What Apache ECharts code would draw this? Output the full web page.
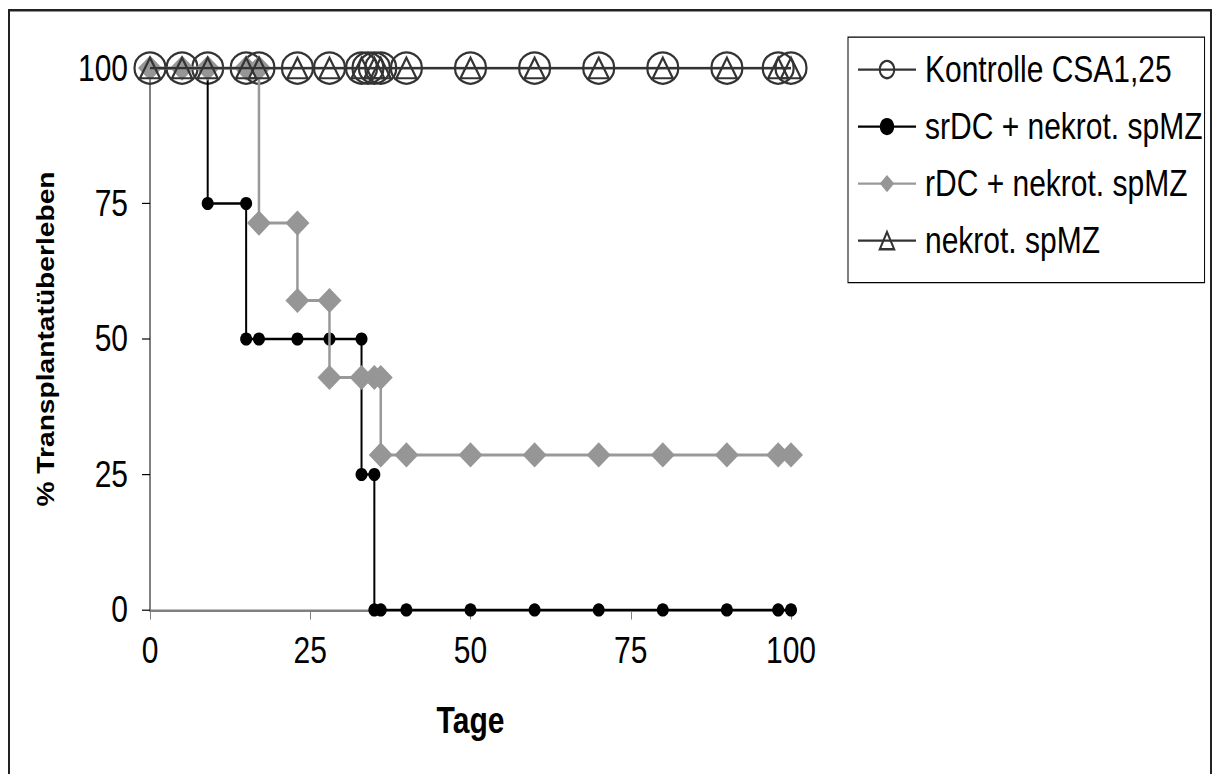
<!DOCTYPE html>
<html>
<head>
<meta charset="utf-8">
<script src="https://cdn.jsdelivr.net/npm/echarts@6/dist/echarts.min.js"></script>
<style>
  html, body { margin: 0; padding: 0; background: #fff; }
  #frame { width: 1214px; height: 774px; position: relative; overflow: hidden; background: #fff; }
  /* The figure is laid out at 1214x645 and stretched vertically to fill 774px,
     which gives the tall, condensed lettering of the printed figure. */
  #chart {
    position: absolute;
    left: 0;
    top: 0;
    width: 1214px;
    height: 645px;
    transform: scaleY(1.2);
    transform-origin: 0 0;
  }
</style>
</head>
<body>
<div id="frame"><div id="chart"></div></div>
<script>
// Survival of transplants (%) over days, four treatment groups
const seriesNames = [
  'Kontrolle CSA1,25',
  'srDC + nekrot. spMZ',
  'rDC + nekrot. spMZ',
  'nekrot. spMZ'
];

const xTicks = [0, 25, 50, 75, 100];
const yTicks = [0, 25, 50, 75, 100];

// Kontrolle CSA1,25
const kontrolleDays = [0, 5, 9, 15, 17, 23, 28, 33, 34, 35, 36, 40, 50, 60, 70, 80, 90, 98, 100];
const kontrolleSurv = [100, 100, 100, 100, 100, 100, 100, 100, 100, 100, 100, 100, 100, 100, 100, 100, 100, 100, 100];

// srDC + nekrot. spMZ
const srdcDays = [0, 5, 9, 9, 15, 15, 17, 23, 28, 33, 33, 35, 35, 36, 40, 50, 60, 70, 80, 90, 98, 100];
const srdcSurv = [100, 100, 100, 75, 75, 50, 50, 50, 50, 50, 25, 25, 0, 0, 0, 0, 0, 0, 0, 0, 0, 0];

// rDC + nekrot. spMZ
const rdcDays = [0, 5, 9, 15, 17, 17, 23, 23, 28, 28, 33, 35, 36, 36, 40, 50, 60, 70, 80, 90, 98, 100];
const rdcSurv = [100, 100, 100, 100, 100, 71.4, 71.4, 57.1, 57.1, 42.9, 42.9, 42.9, 42.9, 28.6, 28.6, 28.6, 28.6, 28.6, 28.6, 28.6, 28.6, 28.6];

// nekrot. spMZ
const nekrotDays = [0, 5, 9, 15, 17, 23, 28, 33, 35, 36, 40, 50, 60, 70, 80, 90, 98, 100];
const nekrotSurv = [100, 100, 100, 100, 100, 100, 100, 100, 100, 100, 100, 100, 100, 100, 100, 100, 100, 100];

const pairs = (xs, ys) => xs.map((x, i) => [x, ys[i]]);

const FONT = "'Liberation Sans', Arial, sans-serif";

const chart = echarts.init(document.getElementById('chart'), null, { renderer: 'svg' });

chart.setOption({
  animation: false,
  backgroundColor: '#ffffff',
  graphic: [{
    type: 'rect',
    shape: { x: 9, y: 8.5, width: 1202, height: 700 },
    style: { fill: 'none', stroke: '#222', lineWidth: 2 },
    silent: true
  }],
  grid: { left: 150, right: 423, top: 56.7, bottom: 136.7, containLabel: false },
  legend: {
    orient: 'vertical',
    left: 848,
    top: 31,
    padding: [12, 2, 20, 9],
    itemGap: 17.5,
    itemWidth: 58,
    itemHeight: 18,
    backgroundColor: '#fff',
    borderColor: '#000',
    borderWidth: 1,
    borderRadius: 0,
    data: seriesNames,
    textStyle: { fontFamily: FONT, fontSize: 30, color: '#000', padding: [0, 0, 0, 4] }
  },
  xAxis: {
    type: 'value',
    min: 0, max: 100, interval: 25,
    name: 'Tage',
    nameLocation: 'middle',
    nameGap: 77,
    nameTextStyle: { fontFamily: FONT, fontWeight: 'bold', fontSize: 30, color: '#000' },
    axisLine: { show: true, onZero: false, lineStyle: { color: '#808080', width: 2 } },
    axisTick: { show: true, inside: false, length: 8, lineStyle: { color: '#808080', width: 1 } },
    axisLabel: {
      fontFamily: FONT, fontSize: 30, color: '#000', margin: 19,
      customValues: xTicks
    },
    splitLine: { show: false }
  },
  yAxis: {
    type: 'value',
    min: 0, max: 100, interval: 25,
    name: '% Transplantatüberleben',
    nameLocation: 'middle',
    nameGap: 92,
    nameRotate: 90,
    nameTextStyle: { fontFamily: FONT, fontWeight: 'bold', fontSize: 23.5, color: '#000' },
    axisLine: { show: true, lineStyle: { color: '#808080', width: 2 } },
    axisTick: { show: true, inside: false, length: 8, lineStyle: { color: '#000', width: 1 } },
    axisLabel: {
      fontFamily: FONT, fontSize: 30, color: '#000', margin: 22,
      customValues: yTicks
    },
    splitLine: { show: false }
  },
  series: [
    {
      name: seriesNames[0],
      type: 'line',
      data: pairs(kontrolleDays, kontrolleSurv),
      symbol: 'circle',
      symbolSize: [31, 26],
      showAllSymbol: true,
      lineStyle: { color: '#333', width: 2 },
      itemStyle: { color: 'rgba(255,255,255,0)', borderColor: '#333', borderWidth: 2 },
      z: 2
    },
    {
      name: seriesNames[1],
      type: 'line',
      data: pairs(srdcDays, srdcSurv),
      symbol: 'circle',
      symbolSize: [12, 11],
      showAllSymbol: true,
      lineStyle: { color: '#000', width: 2 },
      itemStyle: { color: '#000', borderColor: '#000', borderWidth: 0 },
      z: 3
    },
    {
      name: seriesNames[2],
      type: 'line',
      data: pairs(rdcDays, rdcSurv),
      symbol: 'diamond',
      symbolSize: [24, 21],
      showAllSymbol: true,
      lineStyle: { color: '#999', width: 2.5 },
      itemStyle: { color: '#969696', borderColor: '#969696', borderWidth: 0 },
      z: 4
    },
    {
      name: seriesNames[3],
      type: 'line',
      data: pairs(nekrotDays, nekrotSurv),
      symbol: 'triangle',
      symbolSize: [20, 17],
      showAllSymbol: true,
      lineStyle: { color: '#333', width: 2 },
      itemStyle: { color: 'rgba(255,255,255,0)', borderColor: '#333', borderWidth: 2 },
      z: 5
    }
  ]
});
</script>
</body>
</html>
